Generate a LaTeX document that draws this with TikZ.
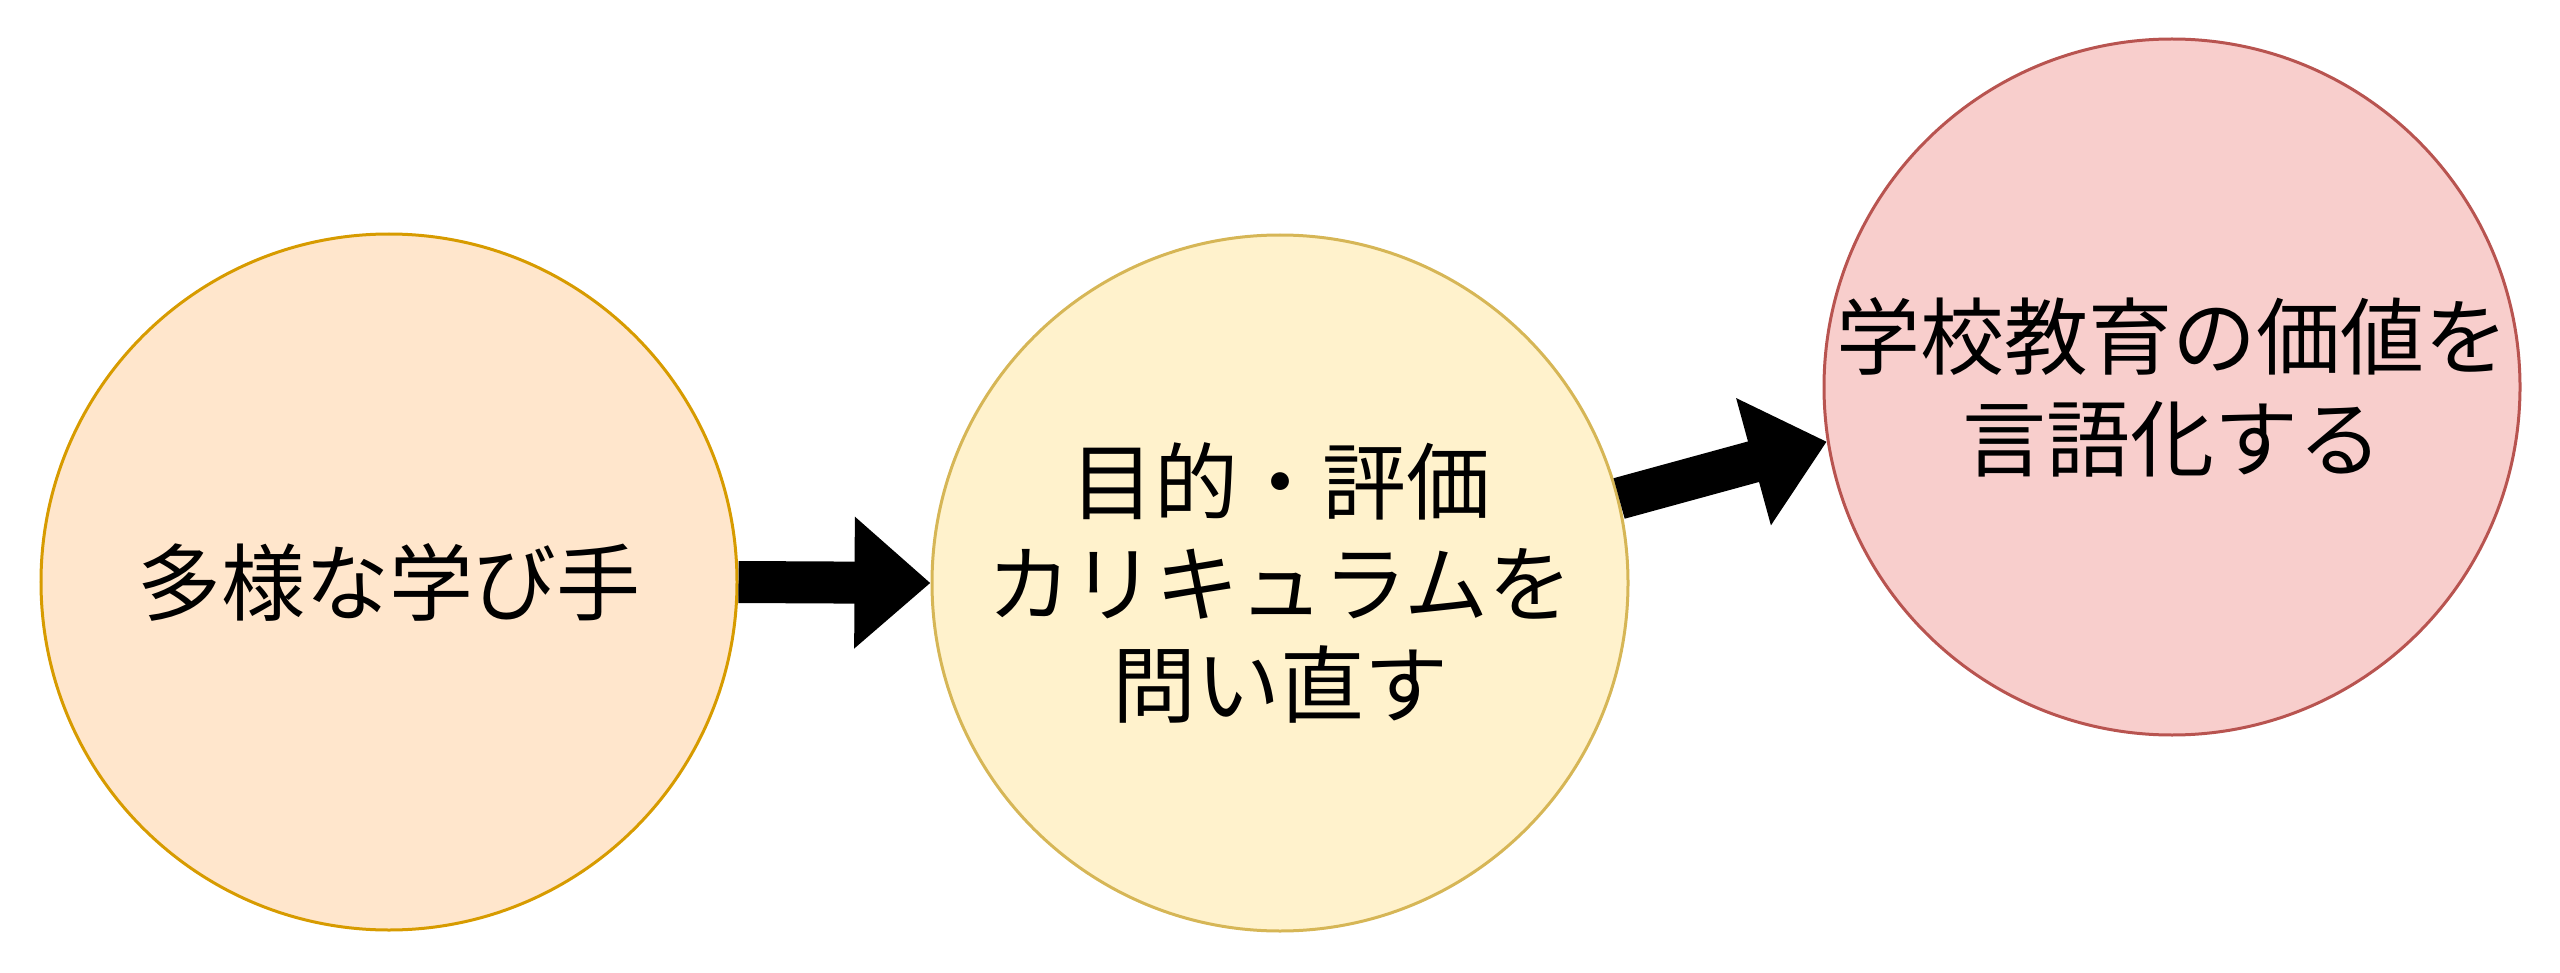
\documentclass[tikz,border=0pt]{standalone}
\usepackage{fontspec}
\newfontfamily\jpfont{Noto Sans CJK JP}
\usetikzlibrary{arrows.meta}
\definecolor{orangefill}{HTML}{FFE6CC}
\definecolor{orangeline}{HTML}{D79B00}
\definecolor{yellowfill}{HTML}{FFF2CC}
\definecolor{yellowline}{HTML}{D6B656}
\definecolor{redfill}{HTML}{F8CECC}
\definecolor{redline}{HTML}{B85450}
\begin{document}
\begin{tikzpicture}[
		bubble/.style={circle, minimum size=6.96cm, inner sep=0pt, line width=0.03cm, align=center, font=\jpfont\fontsize{23.9}{29}\selectfont},
		bigarrow/.style={line width=0.42cm, -{Triangle[width=1.27cm, length=0.76cm]}}
	]
	\useasboundingbox (0,0) rectangle (25.6,9.72);
	\node[bubble, draw=orangeline, fill=orangefill] (a) at (3.89,3.90) {多様な学び手};
	\node[bubble, draw=yellowline, fill=yellowfill] (b) at (12.80,3.89) {目的・評価\\カリキュラムを\\問い直す};
	\node[bubble, draw=redline, fill=redfill] (c) at (21.72,5.85) {学校教育の価値を\\言語化する};
	\draw[bigarrow] (a.east) to (b.west);
	\draw[bigarrow] (b.14) to (c.189);
\end{tikzpicture}
\end{document}
